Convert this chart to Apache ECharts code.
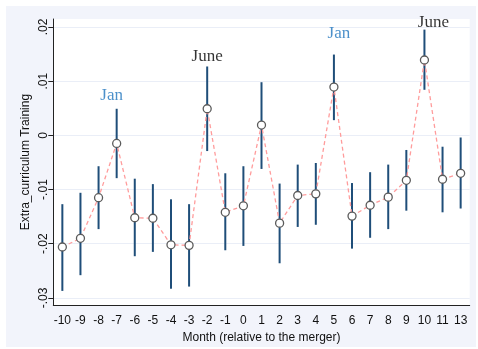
<!DOCTYPE html>
<html>
<head>
<meta charset="utf-8">
<script src="https://cdn.jsdelivr.net/npm/echarts@6/dist/echarts.min.js"></script>
<style>
html,body{margin:0;padding:0;background:#fff;}
#frame{position:absolute;left:6px;top:6px;width:470px;height:341px;background:#f2f4fb;}
#c{position:absolute;left:0;top:0;width:478px;height:349px;}
</style>
</head>
<body>
<div id="frame"></div>
<div id="c"></div>
<script>
const months = ['-10','-9','-8','-7','-6','-5','-4','-3','-2','-1','0','1','2','3','4','5','6','7','8','9','10','11','13'];
const estimates = [-0.0206,-0.0190,-0.0115,-0.0015,-0.0152,-0.0153,-0.0202,-0.0203,0.0049,-0.0142,-0.0130,0.0019,-0.0162,-0.0111,-0.0108,0.0089,-0.0149,-0.0129,-0.0114,-0.0083,0.0139,-0.0081,-0.0070];
const ciUpper = [-0.0127,-0.0106,-0.0057,0.0049,-0.0080,-0.0090,-0.0118,-0.0127,0.0127,-0.0070,-0.0057,0.0098,-0.0089,-0.0054,-0.0051,0.0149,-0.0088,-0.0068,-0.0054,-0.0027,0.0195,-0.0021,-0.0004];
const ciLower = [-0.0287,-0.0258,-0.0173,-0.0079,-0.0223,-0.0215,-0.0283,-0.0279,-0.0029,-0.0212,-0.0204,-0.0062,-0.0236,-0.0169,-0.0165,0.0028,-0.0209,-0.0189,-0.0173,-0.0139,0.0084,-0.0142,-0.0135];
const yTicks = [-0.03,-0.02,-0.01,0,0.01,0.02];
const yTickLabels = ['-.03','-.02','-.01','0','.01','.02'];
const noteMonths = ['-7','-2','5','10'];
const noteValues = [0.0074,0.0146,0.0187,0.0209];
const noteTexts = ['Jan','June','Jan','June'];
const noteColors = ['#1f74bd','#000000','#1f74bd','#000000'];
const noteShift = [-5,0,5,9];

const chart = echarts.init(document.getElementById('c'));
const ciData = months.map((m,i)=>[i, ciLower[i], ciUpper[i]]);
chart.setOption({
  animation:false,
  backgroundColor:'transparent',
  grid:{left:53.3,right:8.3,top:19,bottom:44,show:true,backgroundColor:'#ffffff',borderWidth:0},
  xAxis:{
    type:'category',data:months,boundaryGap:true,
    name:'Month (relative to the merger)',nameLocation:'middle',nameGap:18,
    nameTextStyle:{fontFamily:'Liberation Sans',fontSize:12,color:'#111'},
    axisLine:{onZero:false,lineStyle:{color:'#222',width:1}},
    axisTick:{alignWithLabel:true,length:5,lineStyle:{color:'#222'}},
    axisLabel:{fontFamily:'Liberation Sans',fontSize:12,color:'#111',margin:10,interval:0},
    splitLine:{show:false}
  },
  yAxis:{
    type:'value',min:-0.0313,max:0.02146,
    name:'Extra_curriculum Training',nameLocation:'middle',nameGap:22,nameRotate:90,nameMoveOverlap:false,
    nameTextStyle:{fontFamily:'Liberation Sans',fontSize:12,color:'#111'},
    axisLine:{show:true,lineStyle:{color:'#222',width:1}},
    axisTick:{show:true,length:5,lineStyle:{color:'#222'},customValues:yTicks},
    axisLabel:{rotate:90,fontFamily:'Liberation Sans',fontSize:12,color:'#111',margin:4,
      customValues:yTicks,
      formatter:function(v){const k=yTicks.findIndex(t=>Math.abs(t-v)<1e-9);return k>=0?yTickLabels[k]:'';}},
    splitLine:{show:true,lineStyle:{color:'#eaeef7',width:1}}
  },
  series:[
    {
      type:'custom',z:1,
      data:ciData,
      renderItem:function(params,api){
        const x=api.value(0);
        const p1=api.coord([x,api.value(1)]);
        const p2=api.coord([x,api.value(2)]);
        return {type:'line',shape:{x1:p1[0],y1:p1[1],x2:p2[0],y2:p2[1]},style:{stroke:'#1f4e79',lineWidth:2}};
      },
      encode:{x:0,y:[1,2]}
    },
    {
      type:'line',z:3,data:estimates,
      symbol:'circle',symbolSize:8,showAllSymbol:true,
      lineStyle:{color:'#ff9c9c',width:1.3,type:[4,3]},
      itemStyle:{color:'#ffffff',borderColor:'#5a5a5a',borderWidth:1.3},
      emphasis:{disabled:true}
    },
    {
      type:'scatter',z:4,symbolSize:0,
      data:noteMonths.map((m,i)=>({value:[m,noteValues[i]],label:{color:noteColors[i],offset:[noteShift[i],0]}})),
      label:{show:true,position:'inside',formatter:function(p){return noteTexts[p.dataIndex];},
        fontFamily:'Liberation Serif',fontSize:17},
      emphasis:{disabled:true}
    }
  ]
});
</script>
</body>
</html>
